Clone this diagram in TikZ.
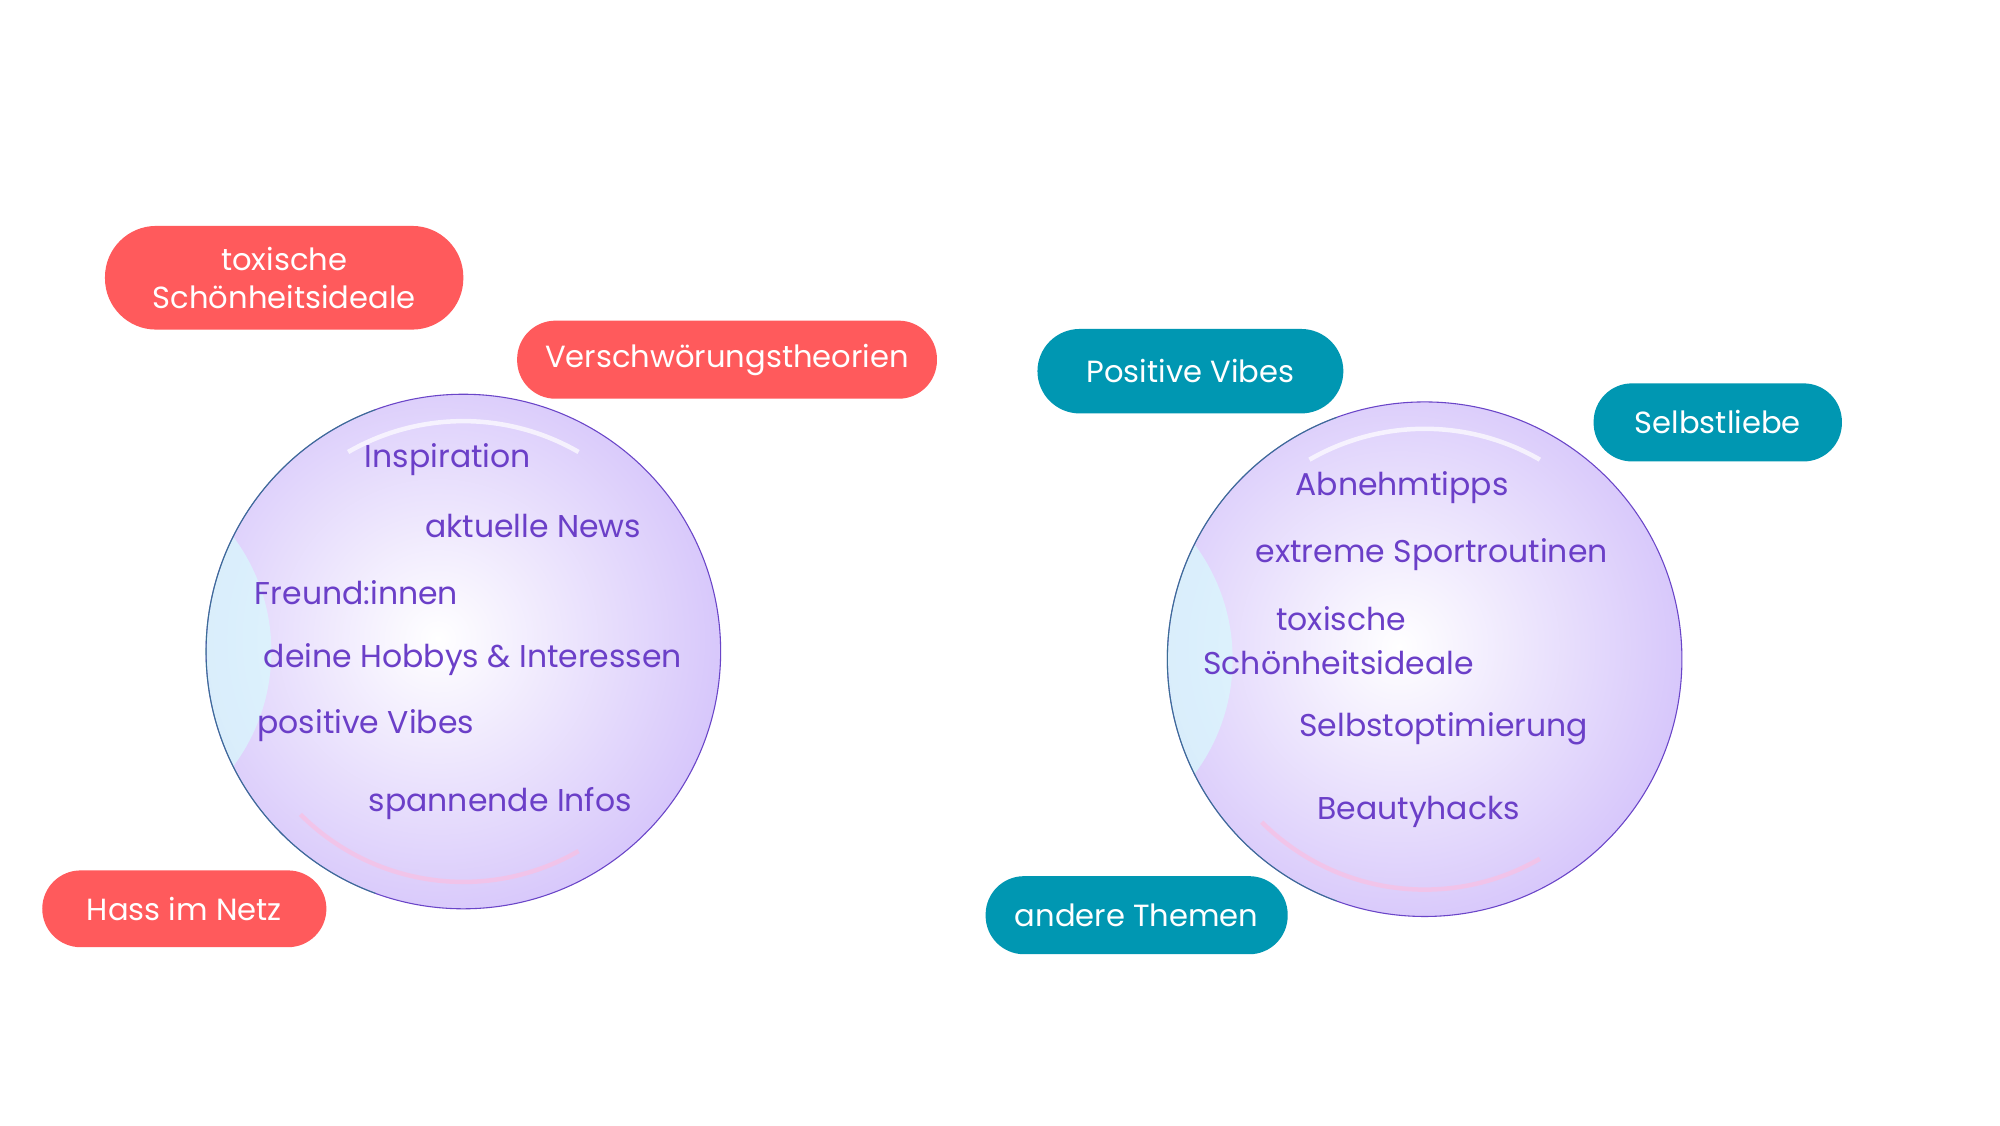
\documentclass[tikz,border=0pt]{standalone}
\usepackage{fontspec}
\setmainfont{Poppins}
\newlength{\pu}\setlength{\pu}{0.5mm}
\definecolor{redpill}{HTML}{FF5A5C}
\definecolor{tealpill}{HTML}{0097B2}
\definecolor{txtpurple}{HTML}{6B3FC8}
\definecolor{edgepurple}{HTML}{6A45C8}
\definecolor{bubout}{HTML}{D2C0FA}
\definecolor{bubcyan}{HTML}{D8FAFC}
\begin{document}
\begin{tikzpicture}[x=0.05cm,y=-0.05cm,
  pill/.style={rounded corners=30\pu, text=white, font=\fontsize{34}{42}\selectfont, align=center, inner sep=0pt},
  itemtxt/.style={anchor=west, text=txtpurple, font=\fontsize{35}{42}\selectfont, inner sep=0pt}]
\useasboundingbox (0,0) rectangle (1562.5,879);
\fill[white] (0,0) rectangle (1562.5,879);
% bubbles
\foreach \cx/\cy/\nm in {362/509/L,1113/515/R}{
  \coordinate (c\nm) at (\cx,\cy);
  \begin{scope}
    \clip (\cx,\cy) circle[radius=201];
    \shade[inner color=white, outer color=bubout] (\cx-20,\cy-10) circle[radius=250];
    \fill[bubcyan,opacity=0.7] (\cx-300,\cy) circle[radius=150];
  \end{scope}
  \draw[magenta!25, line width=5pt, opacity=0.7] (\cx,\cy) ++(135:180) arc[start angle=135, end angle=60, radius=180];
  \draw[white, line width=5pt, opacity=0.7] (\cx,\cy) ++(240:180) arc[start angle=240, end angle=300, radius=180];
  \draw[edgepurple, line width=1.2pt] (\cx,\cy) circle[radius=201];
  \draw[teal!70!gray, line width=1.2pt, opacity=0.7] (\cx,\cy) ++(250:201) arc[start angle=250, end angle=110, radius=201];
}
% left items
\node[itemtxt] (l1) at (285,359) {Inspiration};
\node[itemtxt] (l2) at (332,411) {aktuelle News};
\node[itemtxt] (l3) at (199,463) {Freund:innen};
\node[itemtxt] (l4) at (206,515) {deine Hobbys \& Interessen};
\node[itemtxt] (l5) at (201,567) {positive Vibes};
\node[itemtxt] (l6) at (288,628) {spannende Infos};
% right items
\node[itemtxt] (r1) at (1012,381) {Abnehmtipps};
\node[itemtxt] (r2) at (981,433) {extreme Sportroutinen};
\node[itemtxt] (r3) at (997,483) {toxische};
\node[itemtxt] (r4) at (940,518) {Schönheitsideale};
\node[itemtxt] (r5) at (1015,569) {Selbstoptimierung};
\node[itemtxt] (r6) at (1029,634) {Beautyhacks};
% pills
\node[pill, fill=redpill, minimum width=280\pu, minimum height=81\pu, rounded corners=40\pu] (p1) at (222,217) {toxische\\Schönheitsideale};
\node[pill, fill=redpill, minimum width=328\pu, minimum height=61\pu] (p2) at (568,281) {Verschwörungstheorien};
\node[pill, fill=redpill, minimum width=222\pu, minimum height=60\pu] (p3) at (144,710) {Hass im Netz};
\node[pill, fill=tealpill, minimum width=239\pu, minimum height=66\pu, rounded corners=33\pu] (p4) at (930,290) {Positive Vibes};
\node[pill, fill=tealpill, minimum width=194\pu, minimum height=61\pu] (p5) at (1342,330) {Selbstliebe};
\node[pill, fill=tealpill, minimum width=236\pu, minimum height=61\pu] (p6) at (888,715) {andere Themen};
\end{tikzpicture}
\end{document}
